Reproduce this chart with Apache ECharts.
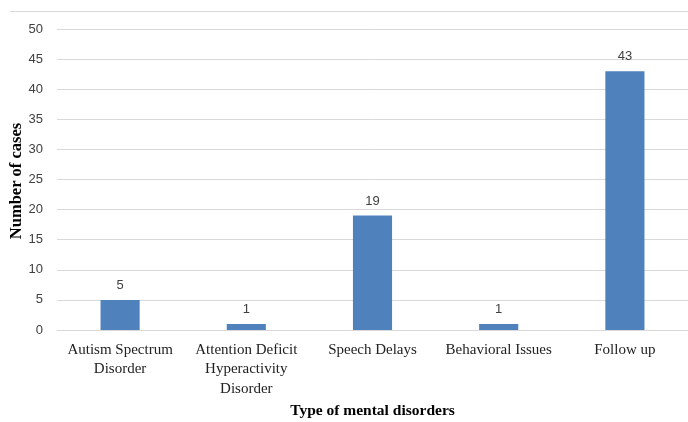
<!DOCTYPE html>
<html>
<head>
<meta charset="utf-8">
<script src="https://cdn.jsdelivr.net/npm/echarts@6/dist/echarts.min.js"></script>
<style>
  html, body { margin: 0; padding: 0; background: #fff; }
  #chart { width: 688px; height: 422px; }
</style>
</head>
<body>
<div id="chart"></div>
<script>
// categories and values
var categories = [
    'Autism Spectrum\nDisorder',
    'Attention Deficit\nHyperactivity\nDisorder',
    'Speech Delays',
    'Behavioral Issues',
    'Follow up'
];
var cases = [5, 1, 19, 1, 43];
var xTitle = 'Type of mental disorders';
var yTitle = 'Number of cases';

var myChart = echarts.init(document.getElementById('chart'));
var option = {
    animation: false,
    backgroundColor: '#fff',
    graphic: [{
        type: 'line',
        shape: { x1: 10, y1: 11.5, x2: 688, y2: 11.5 },
        style: { stroke: '#d9d9d9', lineWidth: 1 }
    }, {
        // y axis title, placed by hand (axis name got pushed to the edge)
        type: 'text',
        x: 17,
        y: 181,
        rotation: Math.PI / 2,
        style: {
            text: yTitle,
            fontFamily: 'Liberation Serif',
            fontWeight: 'bold',
            fontSize: 16.5,
            fill: '#000',
            textAlign: 'center',
            textVerticalAlign: 'middle'
        }
    }],
    grid: {
        left: 57,
        right: 0,
        top: 29,
        bottom: 92,
        outerBoundsMode: 'none',
        containLabel: false
    },
    xAxis: {
        type: 'category',
        data: categories,
        name: xTitle,
        nameLocation: 'middle',
        nameGap: 73,
        nameTextStyle: {
            fontFamily: 'Liberation Serif',
            fontWeight: 'bold',
            fontSize: 15.5,
            color: '#000'
        },
        axisLine: { lineStyle: { color: '#d9d9d9' } },
        axisTick: { show: false },
        axisLabel: {
            fontFamily: 'Liberation Serif',
            fontSize: 15,
            color: '#222',
            lineHeight: 19.5,
            margin: 10,
            interval: 0
        }
    },
    yAxis: {
        type: 'value',
        min: 0,
        max: 50,
        interval: 5,
        axisLine: { show: false },
        axisTick: { show: false },
        axisLabel: {
            fontFamily: 'Liberation Sans',
            fontSize: 13,
            color: '#404040',
            margin: 14
        },
        splitLine: { lineStyle: { color: '#d9d9d9' } }
    },
    series: [{
        type: 'bar',
        data: cases,
        barWidth: '31%',
        itemStyle: { color: '#4f81bd' },
        label: {
            show: true,
            position: 'top',
            distance: 8,
            fontFamily: 'Liberation Sans',
            fontSize: 13,
            color: '#404040'
        }
    }]
};
myChart.setOption(option);
</script>
</body>
</html>
